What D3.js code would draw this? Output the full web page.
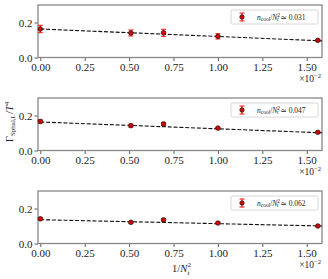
<!DOCTYPE html>
<html>
<head>
<meta charset="utf-8">
<script src="https://cdn.jsdelivr.net/npm/d3@7"></script>
<style>
  body { margin: 0; background: #fff; }
  svg text { font-family: "Liberation Serif", "DejaVu Serif", serif; }
</style>
</head>
<body>
<svg id="chart"></svg>
<script>
// x values in units of 1e-2 (1/N_t^2 for N_t = inf, 14, 12, 10, 8)
const xVals = [0, 0.510, 0.694, 1.0, 1.5625];
const xTicks = [0, 0.25, 0.5, 0.75, 1.0, 1.25, 1.5];
const yTicks = [0.0, 0.2];

const legendVals = ['0.031', '0.047', '0.062'];
const rate1 = [0.163, 0.140, 0.141, 0.121, 0.098];
const err1  = [0.021, 0.017, 0.020, 0.015, 0.005];
const rate2 = [0.166, 0.142, 0.152, 0.128, 0.104];
const err2  = [0.009, 0.008, 0.007, 0.005, 0.004];
const rate3 = [0.141, 0.121, 0.135, 0.117, 0.100];
const err3  = [0.007, 0.005, 0.006, 0.004, 0.004];
// linear fit: value at x = 0 and at the right edge
const fitX = [0, 1.586];
const fit1 = [0.163, 0.095];
const fit2 = [0.163, 0.101];
const fit3 = [0.136, 0.100];

const panels = [
  { y: rate1, err: err1, fit: fit1, leg: legendVals[0] },
  { y: rate2, err: err2, fit: fit2, leg: legendVals[1] },
  { y: rate3, err: err3, fit: fit3, leg: legendVals[2] }
];

const W = 328, H = 279;
const left = 38, right = 322;
const panelTops = [5, 98, 191];
const panelH = 52.5;

const svg = d3.select('#chart').attr('width', W).attr('height', H);

const x = d3.scaleLinear().domain([-0.013, 1.586]).range([left, right]);

panels.forEach((p, i) => {
  const top = panelTops[i];
  const y = d3.scaleLinear().domain([0, 0.3]).range([top + panelH, top]);
  const g = svg.append('g');

  // x axis
  const xa = g.append('g')
    .attr('transform', `translate(0,${top + panelH})`)
    .call(d3.axisBottom(x).tickValues(xTicks).tickFormat(d3.format('.2f')).tickSizeOuter(0).tickSize(3.5).tickPadding(2));
  xa.select('.domain').remove();
  xa.selectAll('text').style('font-size', '11px').attr('fill', '#222');
  xa.selectAll('line').attr('stroke', '#333').attr('stroke-width', 0.8);

  // y axis
  const ya = g.append('g')
    .attr('transform', `translate(${left},0)`)
    .call(d3.axisLeft(y).tickValues(yTicks).tickFormat(d3.format('.1f')).tickSize(3.5).tickPadding(2));
  ya.select('.domain').remove();
  ya.selectAll('text').style('font-size', '11px').attr('fill', '#222');
  ya.selectAll('line').attr('stroke', '#333').attr('stroke-width', 0.8);

  // frame
  g.append('rect')
    .attr('x', left).attr('y', top)
    .attr('width', right - left).attr('height', panelH)
    .attr('fill', 'none').attr('stroke', '#888').attr('stroke-width', 1.3);

  // fit line
  g.append('line')
    .attr('x1', x(fitX[0])).attr('y1', y(p.fit[0]))
    .attr('x2', x(fitX[1])).attr('y2', y(p.fit[1]))
    .attr('stroke', '#111').attr('stroke-width', 1.1)
    .attr('stroke-dasharray', '4,1.8');

  const pts = xVals.map((xv, k) => ({ x: xv, y: p.y[k], e: p.err[k] }));

  // error bars
  const eb = g.selectAll('.eb').data(pts).enter().append('g').attr('class', 'eb');
  eb.append('line')
    .attr('x1', d => x(d.x)).attr('x2', d => x(d.x))
    .attr('y1', d => y(d.y - d.e)).attr('y2', d => y(d.y + d.e))
    .attr('stroke', '#f22').attr('stroke-width', 1.3);
  [-1, 1].forEach(s => {
    eb.append('line')
      .attr('x1', d => x(d.x) - 2.5).attr('x2', d => x(d.x) + 2.5)
      .attr('y1', d => y(d.y + s * d.e)).attr('y2', d => y(d.y + s * d.e))
      .attr('stroke', '#f22').attr('stroke-width', 1.1);
  });
  g.selectAll('.pt').data(pts).enter().append('circle')
    .attr('class', 'pt')
    .attr('cx', d => x(d.x)).attr('cy', d => y(d.y))
    .attr('r', 2.3)
    .attr('fill', '#d00').attr('stroke', '#222').attr('stroke-width', 0.8);

  // legend
  const lx = 231, ly = top + 5, lw = 87, lh = 14;
  g.append('rect')
    .attr('x', lx).attr('y', ly).attr('width', lw).attr('height', lh)
    .attr('rx', 1.5)
    .attr('fill', '#fff').attr('fill-opacity', 0.8)
    .attr('stroke', '#ccc').attr('stroke-width', 0.8);
  const mx = 242, my = ly + lh / 2;
  g.append('line').attr('x1', mx).attr('x2', mx).attr('y1', my - 4).attr('y2', my + 4)
    .attr('stroke', '#f22').attr('stroke-width', 1.3);
  [-4, 4].forEach(o => g.append('line')
    .attr('x1', mx - 2.5).attr('x2', mx + 2.5).attr('y1', my + o).attr('y2', my + o)
    .attr('stroke', '#f22').attr('stroke-width', 1.1));
  g.append('circle').attr('cx', mx).attr('cy', my).attr('r', 2.2)
    .attr('fill', '#d00').attr('stroke', '#222').attr('stroke-width', 0.8);

  const lt = g.append('text').attr('x', 257).attr('y', my + 2.5)
    .style('font-size', '7.5px').attr('fill', '#222');
  lt.append('tspan').style('font-style', 'italic').text('n');
  lt.append('tspan').attr('dy', 1.5).style('font-size', '5.5px').text('cool');
  lt.append('tspan').attr('dy', -1.5).text('/');
  lt.append('tspan').style('font-style', 'italic').text('N');
  lt.append('tspan').attr('dy', -3).style('font-size', '5.5px').text('2');
  lt.append('tspan').attr('dx', -3).attr('dy', 4.5).style('font-size', '5.5px').style('font-style', 'italic').text('t');
  lt.append('tspan').attr('dy', -1.5).text(' \u2243 ' + p.leg);

  // offset text
  const ot = g.append('text').attr('x', 321).attr('y', top + panelH + 24)
    .attr('text-anchor', 'end').style('font-size', '9.5px').attr('fill', '#222');
  ot.append('tspan').text('\u00d710');
  ot.append('tspan').attr('dy', -4).style('font-size', '6.5px').text('\u22122');
});

// y label
const yl = svg.append('text')
  .attr('transform', 'translate(13,122) rotate(-90)')
  .attr('text-anchor', 'middle')
  .style('font-size', '10.5px').attr('fill', '#222');
yl.append('tspan').text('\u0393');
yl.append('tspan').attr('dy', 2).style('font-size', '7px').text('Sphal,L');
yl.append('tspan').attr('dy', -2).text('/');
yl.append('tspan').style('font-style', 'italic').text('T');
yl.append('tspan').attr('dy', -4).style('font-size', '7px').text('4');

// x label
svg.append('text').attr('x', 172).attr('y', 272)
  .style('font-size', '10.5px').attr('fill', '#222')
  .html('1/<tspan font-style="italic">N</tspan>');
svg.append('text').attr('x', 187.5).attr('y', 267)
  .style('font-size', '7px').attr('fill', '#222').text('2');
svg.append('text').attr('x', 187.5).attr('y', 274.5)
  .style('font-size', '7px').style('font-style', 'italic').attr('fill', '#222').text('t');
</script>
</body>
</html>
